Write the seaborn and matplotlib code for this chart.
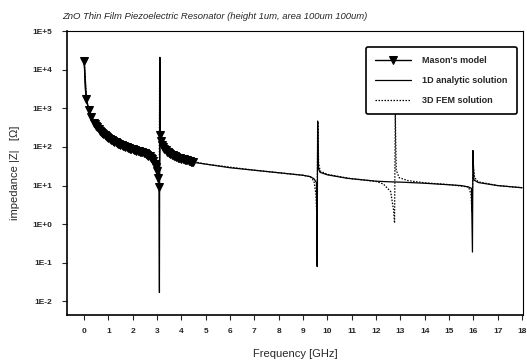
import numpy as np
import pandas as pd
import seaborn as sns
import matplotlib
matplotlib.use("Agg")
import matplotlib.pyplot as plt
from matplotlib.ticker import FixedLocator, FixedFormatter, NullLocator

# Mason's model (triangles)
mason_f = [0.01, 0.1, 0.2, 0.3, 0.4, 0.45, 0.5, 0.55, 0.6, 0.65, 0.7, 0.75, 0.8, 0.85,
           0.9, 0.95, 1.0, 1.05, 1.1, 1.15, 1.2, 1.25, 1.3, 1.35, 1.4, 1.45, 1.5, 1.55,
           1.6, 1.65, 1.7, 1.75, 1.8, 1.85, 1.9, 1.95, 2.0, 2.05, 2.1, 2.15, 2.2, 2.25,
           2.3, 2.35, 2.4, 2.45, 2.5, 2.55, 2.6, 2.65, 2.7, 2.75, 2.8, 2.85, 2.9, 2.95,
           3.0, 3.05, 3.09, 3.13, 3.16, 3.2, 3.25, 3.3, 3.35, 3.4, 3.45, 3.5, 3.55, 3.6,
           3.65, 3.7, 3.75, 3.8, 3.85, 3.9, 3.95, 4.0, 4.05, 4.1, 4.15, 4.2, 4.25, 4.3,
           4.35, 4.4, 4.45, 4.5]
mason_z = [17000, 1700, 900, 580, 430, 390, 350, 320, 290, 265, 245, 230, 215, 202,
           190, 180, 170, 162, 155, 148, 142, 136, 131, 126, 122, 118, 114, 110,
           107, 104, 101, 98, 96, 93, 91, 89, 88, 85, 83, 81, 79, 77,
           75, 73, 72, 70, 68, 66, 63, 60, 57, 53, 48, 43, 37, 31,
           24, 16, 9, 200, 140, 115, 100, 90, 82, 76, 72, 68, 65, 63,
           61, 59, 57, 55, 53, 52, 51, 50, 49, 48, 47, 46, 45, 44,
           43, 42, 41, 40]

# 1D analytic solution (solid line)
analytic_f = [0.01, 0.05, 0.1, 0.2, 0.3, 0.5, 0.7, 1.0, 1.5, 2.0, 2.5, 2.8, 2.9, 3.0,
              3.05, 3.08, 3.10, 3.12, 3.14, 3.17, 3.2, 3.3, 3.5, 3.7, 4.0, 4.5, 5.0,
              6.0, 7.0, 8.0, 9.0, 9.3, 9.45, 9.55, 9.58, 9.60, 9.63, 9.7, 10.0, 10.8,
              11.5, 12.0, 12.6, 13.0, 14.0, 15.0, 15.5, 15.8, 15.92, 15.96, 15.98,
              16.02, 16.2, 17.0, 18.0]
analytic_z = [17000, 3400, 1700, 870, 580, 350, 245, 170, 114, 88, 68, 50, 38, 25,
              16, 8, 0.017, 21000, 200, 140, 115, 90, 68, 59, 49, 40, 36,
              29, 25, 21.5, 18.5, 17, 15, 12, 0.08, 470, 28, 22, 19, 15.5,
              14, 13, 12.5, 12.3, 11.5, 10.5, 10, 9.2, 8.5, 0.19, 81,
              14, 12, 10, 8.8]

# 3D FEM solution (dotted line)
fem_f = [0.01, 0.1, 0.3, 0.5, 1.0, 1.5, 2.0, 2.5, 2.8, 2.9, 3.0, 3.05, 3.09, 3.11,
         3.14, 3.2, 3.5, 4.0, 5.0, 7.0, 9.0, 9.3, 9.45, 9.53, 9.57, 9.61, 9.64, 9.7,
         10.0, 11.0, 12.0, 12.3, 12.6, 12.72, 12.76, 12.79, 12.83, 12.95, 13.3, 14.0,
         15.0, 15.8, 15.9, 15.94, 15.99, 16.05, 16.2, 17.0, 18.0]
fem_z = [17000, 1700, 580, 350, 170, 114, 88, 68, 50, 38, 25, 15, 9, 20000,
         200, 115, 68, 49, 36, 25, 18.5, 17, 13, 6, 1.4, 450, 40, 24,
         19.5, 15, 12.8, 11, 7, 2.3, 1.07, 750, 25, 16, 13.5, 11.8,
         10.6, 9.2, 6, 2.1, 34, 16, 12.5, 10, 8.8]

ytick_vals = [1e-2, 1e-1, 1e0, 1e1, 1e2, 1e3, 1e4, 1e5]
ytick_labels = ["1E-2", "1E-1", "1E+0", "1E+1", "1E+2", "1E+3", "1E+4", "1E+5"]
xtick_vals = list(range(0, 19))

sns.set_style("ticks")
plt.rcParams['font.family'] = ['Liberation Sans', 'DejaVu Sans']

fig = plt.figure(figsize=(5.27, 3.62), dpi=100)
ax = fig.add_axes([0.127, 0.130, 0.866, 0.784])

sns.lineplot(x=fem_f, y=fem_z, ax=ax, color="black", lw=0.9, linestyle=(0, (1.2, 1.2)),
             label="3D FEM solution", sort=False, estimator=None)
sns.lineplot(x=analytic_f, y=analytic_z, ax=ax, color="black", lw=0.9,
             label="1D analytic solution", sort=False, estimator=None)
sns.lineplot(x=mason_f, y=mason_z, ax=ax, color="black", lw=1.0, marker="v",
             markersize=5.5, markeredgecolor="black", label="Mason's model",
             sort=False, estimator=None)

ax.set_yscale("log")
ax.set_ylim(10 ** -2.35, 1e5)
ax.set_xlim(-0.7, 18.05)
ax.yaxis.set_major_locator(FixedLocator(ytick_vals))
ax.yaxis.set_major_formatter(FixedFormatter(ytick_labels))
ax.yaxis.set_minor_locator(NullLocator())
ax.set_xticks(xtick_vals)
ax.tick_params(axis="both", labelsize=6, length=3.5, width=0.8, direction="out")
ax.tick_params(axis="y", pad=7)
ax.tick_params(axis="x", pad=6)
for lab in ax.get_xticklabels() + ax.get_yticklabels():
    lab.set_fontweight("bold")

for s in ax.spines.values():
    s.set_color("black")
    s.set_linewidth(0.8)
ax.spines["left"].set_linewidth(1.2)
ax.spines["bottom"].set_linewidth(1.2)

ax.set_xlabel("Frequency [GHz]", fontsize=8, labelpad=10)
ax.set_ylabel("impedance |Z|   [\u03a9]", fontsize=8, labelpad=9)
fig.text(0.118, 0.955, "ZnO Thin Film Piezoelectric Resonator (height 1um, area 100um 100um)",
         fontsize=6.8, style="italic", ha="left", va="center")

handles, labels = ax.get_legend_handles_labels()
order = [2, 1, 0]
leg = ax.legend([handles[i] for i in order], [labels[i] for i in order],
                loc="upper right", bbox_to_anchor=(0.995, 0.96), fontsize=6.5,
                frameon=True, fancybox=True, edgecolor="black", framealpha=1,
                handlelength=4.0, borderpad=1.0, labelspacing=1.2, handletextpad=1.2)
leg.get_frame().set_linewidth(1.2)
for t in leg.get_texts():
    t.set_fontweight("bold")

fig.savefig("out.png", dpi=100)
